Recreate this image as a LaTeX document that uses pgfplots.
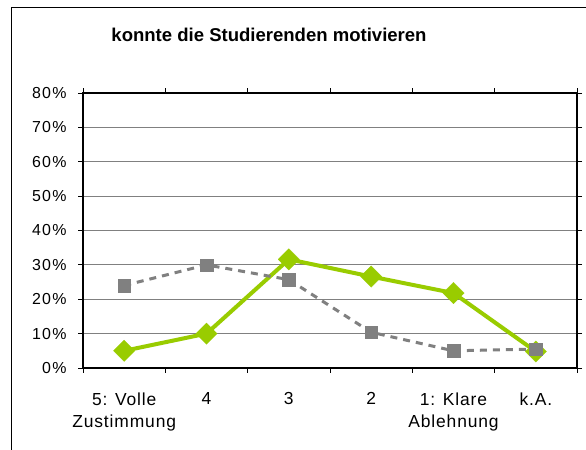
\documentclass[border=0pt]{standalone}
\usepackage{pgfplots}
\pgfplotsset{compat=1.18}
\usepackage{fontspec}
\setmainfont{Liberation Sans}
\newfontfamily\ytickfont[LetterSpace=8]{Liberation Sans}
\newfontfamily\xtickfont[LetterSpace=5]{Liberation Sans}
\definecolor{lgreen}{RGB}{153,204,0}
\definecolor{mgray}{RGB}{128,128,128}
\begin{document}
\begin{tikzpicture}
\useasboundingbox (0,0) rectangle (586bp,450bp);
\fill[white] (0,0) rectangle (586bp,450bp);
\draw[black, line width=1bp] (11bp,0) -- (11bp,442bp) -- (586bp,442bp);
\node[inner sep=0pt, anchor=center] at (269bp,415.5bp)
  {\fontsize{18.6}{22}\selectfont\bfseries konnte die Studierenden motivieren};
\begin{axis}[
  at={(83bp,82bp)}, anchor=south west,
  scale only axis, width=494bp, height=275bp,
  xmin=0, xmax=6, ymin=0, ymax=80,
  xtick={0.5,1.5,2.5,3.5,4.5,5.5},
  xticklabels={5: Volle\\Zustimmung,4,3,2,1: Klare\\Ablehnung,k.A.},
  minor xtick={0,1,2,3,4,5,6},
  ytick={0,10,20,30,40,50,60,70,80},
  yticklabels={\mbox{0\%},\mbox{10\%},\mbox{20\%},\mbox{30\%},\mbox{40\%},\mbox{50\%},\mbox{60\%},\mbox{70\%},\mbox{80\%}},
  tick align=outside,
  major tick length=5bp, minor tick length=5bp,
  major x tick style={draw=none},
  tick style={black, line width=0.8bp},
  ymajorgrids,
  major grid style={mgray, line width=1bp},
  axis line style={black, line width=1.2bp},
  xticklabel style={font=\xtickfont\fontsize{17.5}{22}\selectfont, align=center, anchor=north, yshift=-16bp},
  yticklabel style={font=\ytickfont\fontsize{16}{17}\selectfont, anchor=east, xshift=-8bp},
  clip=false,
]
\addplot[lgreen, line width=4bp, mark=square*, mark size=7.6bp,
  mark options={rotate=45, solid, fill=lgreen, draw=lgreen, line width=0.1bp}]
  coordinates {(0.5,5) (1.5,10) (2.5,31.6) (3.5,26.6) (4.5,21.8) (5.5,4.8)};
\addplot[mgray, line width=3bp, dash pattern=on 7bp off 6bp, mark=square*, mark size=6.3bp,
  mark options={solid, fill=mgray, draw=mgray, line width=0.1bp}]
  coordinates {(0.5,24) (1.5,30) (2.5,25.7) (3.5,10.4) (4.5,5) (5.5,5.5)};
\end{axis}
\end{tikzpicture}
\end{document}
